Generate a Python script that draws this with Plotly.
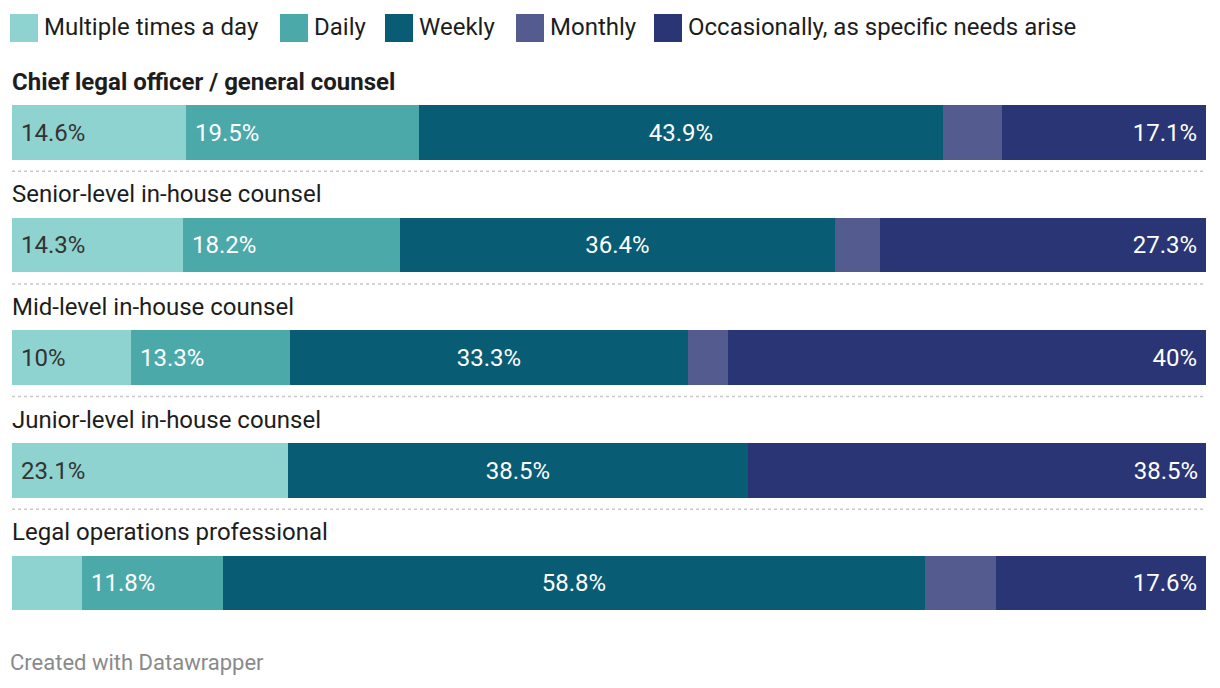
import plotly.graph_objects as go

# ---- data ----
roles = [
    "Chief legal officer / general counsel",
    "Senior-level in-house counsel",
    "Mid-level in-house counsel",
    "Junior-level in-house counsel",
    "Legal operations professional",
]
series_names = ["Multiple times a day", "Daily", "Weekly", "Monthly",
                "Occasionally, as specific needs arise"]
multiple = [14.6, 14.3, 10, 23.1, 5.9]
daily = [19.5, 18.2, 13.3, 0, 11.8]
weekly = [43.9, 36.4, 33.3, 38.5, 58.8]
monthly = [4.9, 3.8, 3.4, 0, 5.9]
occasional = [17.1, 27.3, 40, 38.5, 17.6]

# which labels are shown (Datawrapper hides small ones)
show_multiple = [True, True, True, True, False]
show_daily = [True, True, True, False, True]
show_weekly = [True, True, True, True, True]
show_monthly = [False, False, False, False, False]
show_occasional = [True, True, True, True, True]

# ---- style ----
colors = ["#8ed3cf", "#4ca9aa", "#085c74", "#545c8f", "#293574"]
text_colors = ["#333333", "#ffffff", "#ffffff", "#ffffff", "#ffffff"]
anchors = ["start", "start", "middle", "middle", "end"]
FONT = "Roboto"
W, H = 1220, 688
OFF = 8  # page body margin
ML, MR, MT, MB = 4, 22, 52, 71

values = [multiple, daily, weekly, monthly, occasional]
shows = [show_multiple, show_daily, show_weekly, show_monthly, show_occasional]
ypos = list(range(len(roles)))


def fmt(v):
    s = ("%.1f" % v).rstrip("0").rstrip(".")
    return s + "%"


def pad(s, anchor):
    if anchor == "start":
        return "\u00a0" + s
    if anchor == "end":
        return s + "\u00a0"
    return s


fig = go.Figure()
for name, vals, show, col, tcol, anc in zip(series_names, values, shows, colors,
                                            text_colors, anchors):
    texts = [pad(fmt(v), anc) if (s and v > 0) else "" for v, s in zip(vals, show)]
    fig.add_trace(go.Bar(
        x=vals, y=ypos, orientation="h", name=name,
        marker=dict(color=col, line=dict(width=0)),
        text=texts, textposition="inside", insidetextanchor=anc,
        textfont=dict(family=FONT, size=24, color=tcol),
        constraintext="none", width=0.485, showlegend=False,
        hoverinfo="skip",
    ))

# page pixel -> paper helpers
pw = W - ML - MR
ph = H - MT - MB


def px_x(px):
    return (px - OFF - ML) / pw


def px_y(py):
    return (H - MB - (py - OFF)) / ph


annotations = []
shapes = []

# row titles
for i, r in enumerate(roles):
    label = "<b>%s</b>" % r if i == 0 else r
    annotations.append(dict(
        x=px_x(10), xref="paper", y=i - 0.45, yref="y", text=label,
        showarrow=False, xanchor="left", yanchor="middle",
        font=dict(family=FONT, size=24, color="#1d1d1d"),
    ))
    if i < len(roles) - 1:
        shapes.append(dict(
            type="line", xref="paper", yref="y", x0=0, x1=1,
            y0=i + 0.345, y1=i + 0.345,
            line=dict(color="#c8c8c8", width=1.5, dash="dot"),
        ))

# manual legend
legend_x = [10, 280, 385, 516, 654]
for lx, name, col in zip(legend_x, series_names, colors):
    shapes.append(dict(
        type="rect", xref="paper", yref="paper",
        x0=px_x(lx), x1=px_x(lx + 28), y0=px_y(42), y1=px_y(14),
        fillcolor=col, line=dict(width=0),
    ))
    annotations.append(dict(
        x=px_x(lx + 32), xref="paper", y=px_y(27), yref="paper", text=name,
        showarrow=False, xanchor="left", yanchor="middle",
        font=dict(family=FONT, size=24, color="#1d1d1d"),
    ))

# footer
annotations.append(dict(
    x=px_x(8), xref="paper", y=px_y(662), yref="paper",
    text="Created with Datawrapper", showarrow=False,
    xanchor="left", yanchor="middle",
    font=dict(family=FONT, size=22, color="#8a8a8a"),
))

fig.update_layout(
    width=W, height=H, barmode="stack", bargap=0,
    margin=dict(l=ML, r=MR, t=MT, b=MB),
    paper_bgcolor="white", plot_bgcolor="white",
    xaxis=dict(range=[0, 100], visible=False, fixedrange=True),
    yaxis=dict(range=[4.3725, -0.643], visible=False, fixedrange=True),
    annotations=annotations, shapes=shapes,
    font=dict(family=FONT),
)

fig.write_html("out.html")
